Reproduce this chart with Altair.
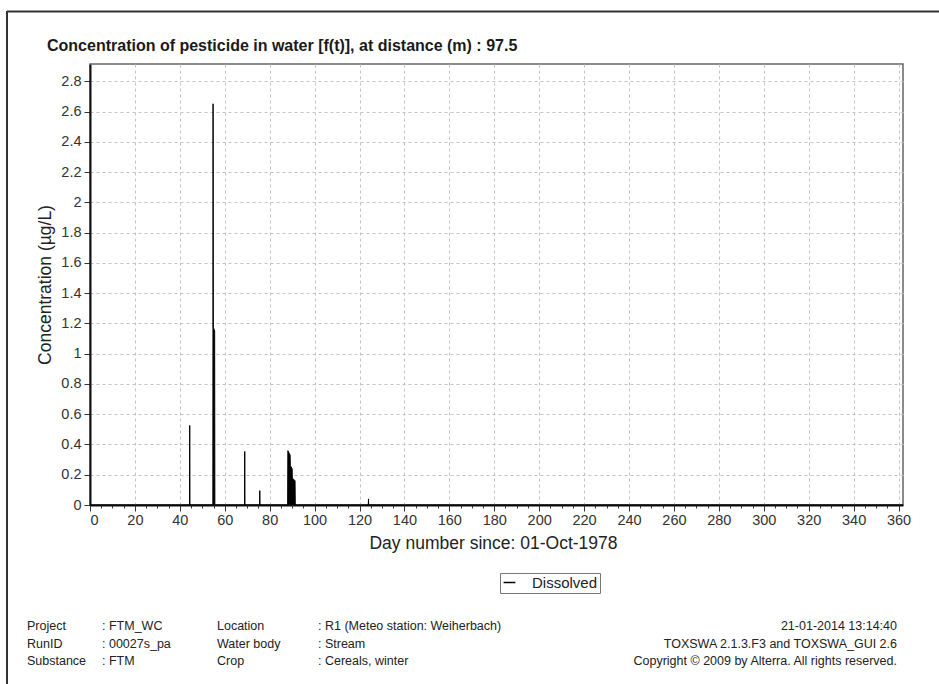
import altair as alt
import pandas as pd

# ---- data ----
days = [0, 44.3, 44.4, 44.5, 54.7, 54.8, 54.9, 55.5, 55.6, 68.8, 68.9, 69.0,
        75.5, 75.6, 75.7, 88.0, 88.1, 89.1, 89.2, 90.0, 90.1, 91.3, 91.4,
        123.9, 124.0, 124.1, 362]
conc = [0, 0, 0.526, 0, 0, 2.652, 1.174, 1.15, 0, 0, 0.354, 0,
        0, 0.095, 0, 0, 0.359, 0.33, 0.26, 0.24, 0.178, 0.16, 0,
        0, 0.04, 0, 0]
series_name = "Dissolved"

x_ticks = list(range(0, 361, 20))
x_minor = list(range(0, 361, 5))
y_ticks = [0, 0.2, 0.4, 0.6, 0.8, 1, 1.2, 1.4, 1.6, 1.8, 2, 2.2, 2.4, 2.6, 2.8]

title_text = "Concentration of pesticide in water [f(t)], at distance (m) : 97.5"
x_title = "Day number since: 01-Oct-1978"
y_title = "Concentration (µg/L)"

foot_col1 = ["Project", "RunID", "Substance"]
foot_col2 = [": FTM_WC", ": 00027s_pa", ": FTM"]
foot_col3 = ["Location", "Water body", "Crop"]
foot_col4 = [": R1 (Meteo station: Weiherbach)", ": Stream", ": Cereals, winter"]
foot_right = ["21-01-2014 13:14:40", "TOXSWA 2.1.3.F3 and TOXSWA_GUI 2.6",
              "Copyright © 2009 by Alterra. All rights reserved."]

FONT = "Liberation Sans"
W, H = 813, 441
PL, PT = 90, 64

df = pd.DataFrame({"day": days, "conc": conc, "series": [series_name] * len(days)})

xscale = alt.Scale(domain=[0, 362], nice=False, zero=False)
yscale = alt.Scale(domain=[0, 2.915], nice=False)

main_x_axis = alt.Axis(
    values=x_ticks, title=x_title, grid=True, gridDash=[3, 3], gridColor="#c4c4c4",
    domainColor="#111", domainWidth=2, tickColor="#333", tickSize=6,
    labelFont=FONT, labelFontSize=14.5, labelColor="#333", labelPadding=2,
    labelOverlap=False,
    titleFont=FONT, titleFontSize=17.5, titleFontWeight="normal", titleColor="#222",
    titleX=403, titleY=38, titleBaseline="middle", titleAlign="center",
)


def make_y_axis():
    return alt.Axis(
        values=y_ticks, format="~g", title=y_title, grid=True, gridDash=[3, 3],
        gridColor="#c4c4c4", domainColor="#111", domainWidth=2, tickColor="#333",
        tickSize=6, labelFont=FONT, labelFontSize=14.5, labelColor="#333",
        labelPadding=3, labelOverlap=False,
        titleFont=FONT, titleFontSize=17.5, titleFontWeight="normal", titleColor="#222",
        titleX=-45, titleY=H / 2, titleAngle=270, titleBaseline="middle",
        titleAlign="center",
    )


area = alt.Chart(df).mark_area(color="black", opacity=1).encode(
    x=alt.X("day:Q", scale=xscale, axis=main_x_axis),
    y=alt.Y("conc:Q", scale=yscale, axis=make_y_axis()),
)

line = alt.Chart(df).mark_line(strokeWidth=1).encode(
    x=alt.X("day:Q", scale=xscale, axis=None),
    y=alt.Y("conc:Q", scale=yscale, axis=make_y_axis()),
    color=alt.Color(
        "series:N", scale=alt.Scale(range=["black"]),
        legend=alt.Legend(
            title=None, orient="none", legendX=410, legendY=509,
            strokeColor="#777", padding=2, symbolType="stroke", symbolSize=140,
            symbolStrokeWidth=1.5, labelFont=FONT, labelFontSize=15,
            labelColor="#222", labelOffset=15, fillColor="white",
        ),
    ),
)

minor = alt.Chart(pd.DataFrame({"day": [0]})).mark_point(opacity=0).encode(
    x=alt.X("day:Q", scale=xscale, axis=alt.Axis(
        values=x_minor, labels=False, grid=False, domain=False, tickSize=3,
        tickColor="#333", orient="bottom", title=None)),
)

one = pd.DataFrame({"k": [0]})
frame_top = alt.Chart(one).mark_rule(color="#333", strokeWidth=2).encode(
    x=alt.value(7 - PL), x2=alt.value(939 - PL), y=alt.value(11.5 - PT))
frame_left = alt.Chart(one).mark_rule(color="#333", strokeWidth=2).encode(
    x=alt.value(7 - PL), y=alt.value(11 - PT), y2=alt.value(684 - PT))

title_mark = alt.Chart(pd.DataFrame({"t": [title_text]})).mark_text(
    font=FONT, fontSize=16, fontWeight="bold", color="#1a1a1a",
    align="left", baseline="middle",
).encode(text="t:N", x=alt.value(47 - PL), y=alt.value(46 - PT))


def foot(lines, xpix, align):
    d = pd.DataFrame({"t": ["\n".join(lines)]})
    return alt.Chart(d).mark_text(
        font=FONT, fontSize=12.5, color="#222", align=align, baseline="middle",
        lineBreak="\n", lineHeight=17.5,
    ).encode(text="t:N", x=alt.value(xpix - PL), y=alt.value(626 - PT))


chart = alt.layer(
    area, line, minor, frame_top, frame_left, title_mark,
    foot(foot_col1, 27, "left"), foot(foot_col2, 102, "left"),
    foot(foot_col3, 217, "left"), foot(foot_col4, 318, "left"),
    foot(foot_right, 897, "right"),
).resolve_axis(x="independent").properties(
    width=W, height=H,
    padding={"left": PL, "top": PT, "right": 939 - PL - W, "bottom": 684 - PT - H},
    autosize=alt.AutoSizeParams(type="none"),
    background="white",
).configure_view(stroke="#666", strokeWidth=1.5)

chart.save("out.html", embed_options={"renderer": "svg", "actions": False})
